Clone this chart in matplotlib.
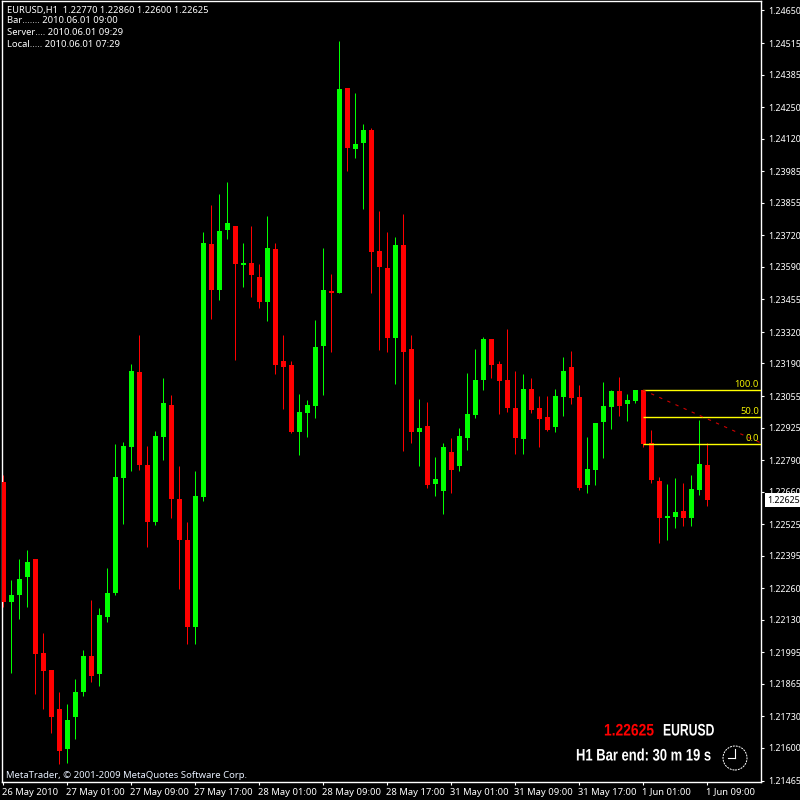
import matplotlib
matplotlib.use('Agg')
import matplotlib.pyplot as plt
import matplotlib.patheffects as pe
from matplotlib.lines import Line2D
from matplotlib.patches import Circle
from matplotlib.transforms import Affine2D, ScaledTranslation

# EURUSD H1 candles
open_prices = [
    1.22700, 1.22204, 1.22233, 1.22307, 1.22382, 1.21993, 1.21923, 1.21761, 1.21596, 1.21728,
    1.21832, 1.21980, 1.21906, 1.22142, 1.22241, 1.22716, 1.22845, 1.23155, 1.22770, 1.22535,
    1.22886, 1.23018, 1.22630, 1.22460, 1.22100, 1.22638, 1.23684, 1.23494, 1.23742, 1.23758,
    1.23597, 1.23605, 1.23548, 1.23444, 1.23663, 1.23200, 1.23184, 1.22907, 1.22985, 1.23014,
    1.23262, 1.23490, 1.23481, 1.24329, 1.24077, 1.24102, 1.24155, 1.23655, 1.23585, 1.23295,
    1.23680, 1.23250, 1.22907, 1.22931, 1.22692, 1.22663, 1.22824, 1.22766, 1.22882, 1.22977,
    1.23122, 1.23291, 1.23188, 1.23122, 1.23006, 1.22878, 1.23084, 1.23006, 1.22969, 1.22927,
    1.23051, 1.23175, 1.23051, 1.22688, 1.22750, 1.22948, 1.23010, 1.23076, 1.23022, 1.23035,
    1.23080, 1.22861, 1.22704, 1.22551, 1.22555, 1.22580, 1.22551, 1.22667, 1.22770]
high_prices = [
    1.22729, 1.22295, 1.22382, 1.22419, 1.22382, 1.22076, 1.21923, 1.21832, 1.21782, 1.21885,
    1.22005, 1.22212, 1.22179, 1.22344, 1.22857, 1.22865, 1.23188, 1.23308, 1.22849, 1.22911,
    1.23130, 1.23060, 1.22766, 1.22535, 1.22745, 1.23734, 1.23845, 1.23891, 1.23940, 1.23758,
    1.23688, 1.23758, 1.23601, 1.23800, 1.23688, 1.23308, 1.23200, 1.23064, 1.23039, 1.23370,
    1.23668, 1.23560, 1.24523, 1.24329, 1.24308, 1.24180, 1.24164, 1.23820, 1.23734, 1.23713,
    1.23808, 1.23308, 1.23043, 1.23031, 1.22803, 1.22861, 1.22882, 1.22923, 1.23151, 1.23250,
    1.23299, 1.23291, 1.23200, 1.23333, 1.23159, 1.23146, 1.23130, 1.23056, 1.23056, 1.23084,
    1.23217, 1.23242, 1.23101, 1.22886, 1.22944, 1.23113, 1.23080, 1.23134, 1.23064, 1.23080,
    1.23080, 1.22915, 1.22721, 1.22692, 1.22716, 1.22696, 1.22729, 1.22956, 1.22860]
low_prices = [
    1.22183, 1.21910, 1.22133, 1.22183, 1.21823, 1.21761, 1.21662, 1.21534, 1.21538, 1.21637,
    1.21815, 1.21873, 1.21856, 1.22121, 1.22233, 1.22526, 1.22745, 1.22750, 1.22431, 1.22522,
    1.22791, 1.22551, 1.22257, 1.22030, 1.22030, 1.22621, 1.23374, 1.23452, 1.23705, 1.23204,
    1.23506, 1.23465, 1.23419, 1.23366, 1.23146, 1.23002, 1.22903, 1.22812, 1.22886, 1.22965,
    1.23060, 1.23237, 1.23481, 1.23986, 1.24040, 1.23829, 1.23481, 1.23246, 1.23237, 1.23105,
    1.22828, 1.22861, 1.22766, 1.22675, 1.22642, 1.22568, 1.22654, 1.22745, 1.22832, 1.22965,
    1.23080, 1.23130, 1.22981, 1.22989, 1.22816, 1.22816, 1.22985, 1.22845, 1.22911, 1.22907,
    1.22973, 1.23022, 1.22667, 1.22654, 1.22688, 1.22799, 1.22919, 1.22973, 1.22952, 1.23027,
    1.22845, 1.22696, 1.22448, 1.22460, 1.22510, 1.22518, 1.22518, 1.22646, 1.22600]
close_prices = [
    1.22204, 1.22233, 1.22299, 1.22369, 1.21989, 1.21918, 1.21728, 1.21588, 1.21716, 1.21832,
    1.21980, 1.21898, 1.22150, 1.22241, 1.22721, 1.22849, 1.23159, 1.22770, 1.22535, 1.22890,
    1.23027, 1.22630, 1.22460, 1.22100, 1.22642, 1.23688, 1.23494, 1.23738, 1.23771, 1.23601,
    1.23605, 1.23556, 1.23444, 1.23668, 1.23184, 1.23175, 1.22907, 1.22989, 1.23018, 1.23258,
    1.23494, 1.23481, 1.24325, 1.24081, 1.24098, 1.24155, 1.23651, 1.23589, 1.23295, 1.23680,
    1.23237, 1.22907, 1.22923, 1.22688, 1.22712, 1.22845, 1.22750, 1.22890, 1.22981, 1.23122,
    1.23291, 1.23184, 1.23118, 1.23006, 1.22882, 1.23084, 1.22998, 1.22960, 1.22915, 1.23056,
    1.23159, 1.23047, 1.22675, 1.22754, 1.22944, 1.23014, 1.23076, 1.23014, 1.23039, 1.23080,
    1.22857, 1.22708, 1.22551, 1.22559, 1.22576, 1.22551, 1.22671, 1.22774, 1.22625]

price_ticks = [1.21465, 1.21600, 1.21730, 1.21865, 1.21995, 1.22130, 1.22260, 1.22395, 1.22525,
               1.22660, 1.22790, 1.22925, 1.23055, 1.23190, 1.23320, 1.23455, 1.23590, 1.23720,
               1.23855, 1.23985, 1.24120, 1.24250, 1.24385, 1.24515, 1.24650]
time_ticks = [0, 8, 16, 24, 32, 40, 48, 56, 64, 72, 80, 88]
time_labels = ['26 May 2010', '27 May 01:00', '27 May 09:00', '27 May 17:00', '28 May 01:00',
               '28 May 09:00', '28 May 17:00', '31 May 01:00', '31 May 09:00', '31 May 17:00',
               '1 Jun 01:00', '1 Jun 09:00']

fibo_levels = [1.23080, 1.22969, 1.22857]
fibo_labels = ['100.0', '50.0', '0.0']
last_price = 1.22625

plt.rcParams['font.family'] = 'Noto Sans'


class Squeeze(pe.AbstractPathEffect):
    # bop chu theo chieu ngang, font hep khong co san
    def __init__(self, sx):
        super().__init__()
        self.sx = sx

    def draw_path(self, renderer, gc, tpath, affine, rgbFace=None):
        renderer.draw_path(gc, tpath, Affine2D().scale(self.sx, 1) + affine, rgbFace)


fig = plt.figure(figsize=(8, 8), dpi=100, facecolor='black')
ax = fig.add_axes([2 / 800, 18 / 800, 759 / 800, 781 / 800], facecolor='black')
ax.set_xlim(-0.125, 94.75)
ax.set_ylim(1.21459, 1.24689)

# Nen
for i in range(len(open_prices)):
    up = close_prices[i] >= open_prices[i]
    color = '#00ff00' if up else '#ff0000'
    ax.vlines(i, low_prices[i], high_prices[i], color=color, linewidth=0.72, zorder=2)
    bottom = min(open_prices[i], close_prices[i])
    height = max(abs(close_prices[i] - open_prices[i]), 0.00004)
    ax.bar(i, height, width=5 / 8, bottom=bottom, color=color, linewidth=0, zorder=3)

# Fibo
for level, name in zip(fibo_levels, fibo_labels):
    ax.plot([80, 94.75], [level, level], color='#ffff00', linewidth=1.0, zorder=4, solid_capstyle='butt')
    ax.text(94.5, level + 0.00003, name, color='#f0f000', fontsize=6.8, ha='right', va='bottom', zorder=5)
ax.plot([80, 94.75], [fibo_levels[0], fibo_levels[2] + 0.00004], color='#d00000', linewidth=0.8,
        linestyle=(0, (3, 5)), zorder=4)

# Truc
for spine in ax.spines.values():
    spine.set_color('white')
    spine.set_linewidth(1.0)
ax.yaxis.tick_right()
ax.set_yticks(price_ticks)
ax.set_yticklabels(['%.5f' % p for p in price_ticks])
ax.set_xticks(time_ticks)
ax.set_xticklabels(time_labels, ha='left')
ax.tick_params(axis='y', colors='white', length=2.5, width=0.8, labelsize=6.4, pad=2.5)
ax.tick_params(axis='x', colors='white', length=2.5, width=0.8, labelsize=6.8, pad=1.5)
for lab in ax.get_xticklabels():
    lab.set_transform(lab.get_transform() + ScaledTranslation(-1 / 100, 0, fig.dpi_scale_trans))

# Gia cuoi
ax.annotate('%.5f' % last_price, xy=(1.0, last_price), xycoords=('axes fraction', 'data'),
            xytext=(4.5, 0), textcoords='offset points', color='black', fontsize=6.4,
            va='center', ha='left', annotation_clip=False,
            bbox=dict(boxstyle='square,pad=0.25', facecolor='white', edgecolor='white', linewidth=0))


def label(x, y, s, **kw):
    fig.text(x / 800, 1 - y / 800, s, va='center', **kw)


# Chu tren cung
label(7, 10.5, 'EURUSD,H1  1.22770 1.22860 1.22600 1.22625', color='white', fontsize=6.7)
label(7, 20.5, 'Bar....... 2010.06.01 09:00', color='white', fontsize=6.8)
label(7, 32.5, 'Server.... 2010.06.01 09:29', color='white', fontsize=6.8)
label(7, 44.5, 'Local..... 2010.06.01 07:29', color='white', fontsize=6.8)
label(6, 775, 'MetaTrader, \u00a9 2001-2009 MetaQuotes Software Corp.', color='#e8f0ff', fontsize=6.85)

# Gia va dem nguoc
label(604, 731, '1.22625', color='#ff0000', fontsize=12, fontweight='bold',
      family='Liberation Sans', path_effects=[Squeeze(0.83)])
label(663, 731, 'EURUSD', color='white', fontsize=12, fontweight='bold',
      family='Liberation Sans', path_effects=[Squeeze(0.73)])
label(576, 756, 'H1 Bar end: 30 m 19 s', color='white', fontsize=12, fontweight='bold',
      family='Liberation Sans', path_effects=[Squeeze(0.78)])

# Dong ho
cx, cy = 735 / 800, 1 - 758 / 800
fig.add_artist(Circle((cx, cy), 12 / 800, transform=fig.transFigure, fill=False,
                      edgecolor='white', linewidth=0.7, linestyle=(0, (2, 1))))
fig.add_artist(Line2D([cx, cx], [cy, cy + 9 / 800], transform=fig.transFigure, color='white', linewidth=0.8))
fig.add_artist(Line2D([cx, cx - 7 / 800], [cy, cy], transform=fig.transFigure, color='white', linewidth=0.8))

fig.savefig('out.png', dpi=100, facecolor='black')
